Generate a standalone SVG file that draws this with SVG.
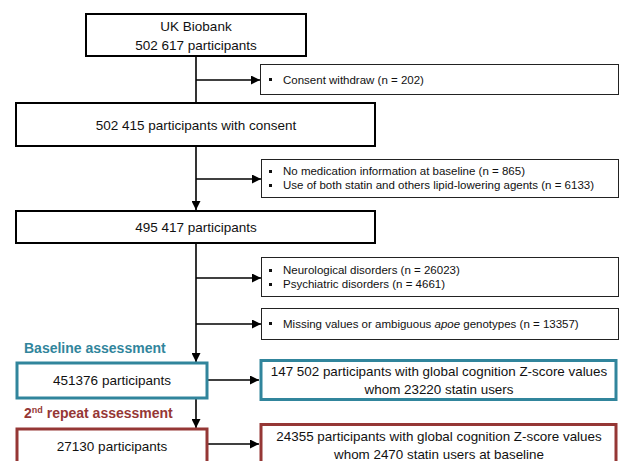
<svg xmlns="http://www.w3.org/2000/svg" width="619" height="461" viewBox="0 0 619 461">
<defs>
<marker id="ah" viewBox="0 0 10 10" refX="10" refY="5" markerWidth="10" markerHeight="9" markerUnits="userSpaceOnUse" orient="auto">
<path d="M0,0 L10,5 L0,10 z" fill="#000"/>
</marker>
<style>
text{font-family:"Liberation Sans",Arial,sans-serif;fill:#111}
.main{font-size:13.5px;text-anchor:middle}
.ex{font-size:11.5px}
.res{font-size:13.4px;text-anchor:middle}
.mbox{fill:#fff;stroke:#000;stroke-width:2}
.xbox{fill:#fff;stroke:#222;stroke-width:1}
.tbox{fill:#fff;stroke:#31859c;stroke-width:3}
.rbox{fill:#fff;stroke:#953735;stroke-width:3}
.bul{fill:#111}
.conn{stroke:#000;stroke-width:1.6;fill:none}
.hdr{font-size:14px;font-weight:bold}
</style>
</defs>
<g id="connectors">
<line class="conn" x1="196" y1="56" x2="196" y2="102"/>
<line class="conn" x1="196" y1="80" x2="260" y2="80" marker-end="url(#ah)"/>
<line class="conn" x1="196" y1="146" x2="196" y2="210" marker-end="url(#ah)"/>
<line class="conn" x1="196" y1="179" x2="261" y2="179" marker-end="url(#ah)"/>
<line class="conn" x1="196" y1="243" x2="196" y2="362" marker-end="url(#ah)"/>
<line class="conn" x1="196" y1="278" x2="261" y2="278" marker-end="url(#ah)"/>
<line class="conn" x1="196" y1="324" x2="261" y2="324" marker-end="url(#ah)"/>
<line class="conn" x1="207" y1="380" x2="259" y2="380" marker-end="url(#ah)"/>
<line class="conn" x1="196" y1="398" x2="196" y2="428" marker-end="url(#ah)"/>
<line class="conn" x1="207" y1="444" x2="259" y2="444" marker-end="url(#ah)"/>
</g>
<g id="n-ukb">
<rect class="mbox" x="86" y="14" width="220" height="42"/>
<text class="main" x="196" y="31">UK Biobank</text>
<text class="main" x="196" y="50">502 617 participants</text>
</g>
<g id="x-consent">
<rect class="xbox" x="260.5" y="64.5" width="358" height="30"/>
<rect class="bul" x="269" y="78" width="3" height="3"/>
<text class="ex" x="283" y="84">Consent withdraw (n = 202)</text>
</g>
<g id="n-consent">
<rect class="mbox" x="16" y="103" width="359" height="43"/>
<text class="main" x="196" y="130">502 415 participants with consent</text>
</g>
<g id="x-med">
<rect class="xbox" x="261.5" y="159.5" width="357" height="38"/>
<rect class="bul" x="269" y="170" width="3" height="3"/>
<text class="ex" x="283" y="175">No medication information at baseline (n = 865)</text>
<rect class="bul" x="269" y="184" width="3" height="3"/>
<text class="ex" x="283" y="189">Use of both statin and others lipid-lowering agents (n = 6133)</text>
</g>
<g id="n-495">
<rect class="mbox" x="16" y="211" width="359" height="32"/>
<text class="main" x="196" y="232">495 417 participants</text>
</g>
<g id="x-neuro">
<rect class="xbox" x="261.5" y="257.5" width="357" height="39"/>
<rect class="bul" x="269" y="269" width="3" height="3"/>
<text class="ex" x="283" y="274">Neurological disorders (n = 26023)</text>
<rect class="bul" x="269" y="283" width="3" height="3"/>
<text class="ex" x="283" y="288">Psychiatric disorders (n = 4661)</text>
</g>
<g id="x-missing">
<rect class="xbox" x="261.5" y="308.5" width="357" height="31"/>
<rect class="bul" x="269" y="322" width="3" height="3"/>
<text class="ex" x="283" y="328">Missing values or ambiguous <tspan font-style="italic">apoe</tspan> genotypes (n = 13357)</text>
</g>
<text class="hdr" x="24" y="353" style="fill:#31859c">Baseline assessment</text>
<g id="n-baseline">
<rect class="tbox" x="17" y="363" width="190" height="35"/>
<text class="main" x="112" y="385">451376 participants</text>
</g>
<g id="r-baseline">
<rect class="tbox" x="261" y="360.5" width="355" height="39"/>
<text class="res" x="439" y="376">147 502 participants with global cognition Z-score values</text>
<text class="res" x="439" y="394">whom 23220 statin users</text>
</g>
<text class="hdr" x="24" y="418" style="fill:#953735">2<tspan font-size="9px" dy="-5">nd</tspan><tspan dy="5"> repeat assessment</tspan></text>
<g id="n-repeat">
<rect class="rbox" x="17" y="429" width="190" height="40"/>
<text class="main" x="112" y="451">27130 participants</text>
</g>
<g id="r-repeat">
<rect class="rbox" x="261" y="424.5" width="355" height="45"/>
<text class="res" x="439" y="441">24355 participants with global cognition Z-score values</text>
<text class="res" x="439" y="459">whom 2470 statin users at baseline</text>
</g>
</svg>
